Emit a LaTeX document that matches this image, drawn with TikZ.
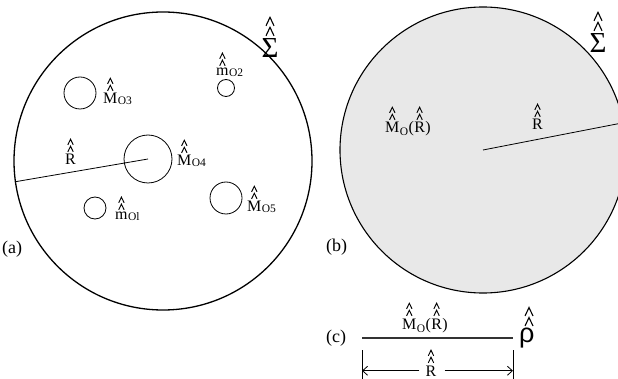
\documentclass[tikz,border=0pt]{standalone}
\usepackage{fontspec}
\setmainfont{Liberation Serif}
\newfontfamily\sansf{Liberation Sans}
\usetikzlibrary{arrows.meta}
\tikzset{
  dhat/.pic={\draw[line width=0.95pt] (-2.7,0) -- (0,-5.6) -- (2.7,0) (-2.7,-7) -- (0,-12.6) -- (2.7,-7);},
  bighat/.pic={\draw[line width=1.1pt] (-4,0) -- (0,-8.5) -- (4,0) (-4,-10) -- (0,-18.5) -- (4,-10);},
  lbl/.style={anchor=base west, inner sep=0pt, font=\fontsize{16}{16}\selectfont},
  panel/.style={anchor=base west, inner sep=0pt, font=\fontsize{18}{18}\selectfont},
  sub/.style={anchor=base west, inner sep=0pt, font=\fontsize{11.5}{11.5}\selectfont},
  orb/.style={circle, draw, line width=0.8pt, inner sep=0pt},
  big/.style={circle, draw, inner sep=0pt},
  sig/.style={anchor=base, inner sep=0pt, font=\fontsize{29}{29}\selectfont},
  dim/.style={line width=0.8pt, -{Straight Barb[length=5pt,width=9pt]}},
}
\begin{document}
\begin{tikzpicture}[x=1pt,y=-1pt]
\useasboundingbox (0,0) rectangle (618,379);
\clip (0,0) rectangle (618,379);
% (a)
\node[big, line width=1.3pt, minimum size=298pt] (ca) at (163,161) {};
\node[orb, minimum size=32pt] (o3) at (80,93) {};
\node[orb, minimum size=17pt] (o2) at (226,88) {};
\node[orb, minimum size=48pt] (o4) at (148,159) {};
\node[orb, minimum size=22pt] (o1) at (95,208) {};
\node[orb, minimum size=32pt] (o5) at (226,198) {};
\draw[line width=0.8pt] (ca.188.6) -- (o4.center);
\node[lbl] (l3) at (103,104) {M};
\node[sub, yshift=-1pt] (l3s) at (l3.base east) {O3};
\pic at ([yshift=2.5pt]l3.north) {dhat};
\node[lbl] (l2) at (216,76) {m};
\node[sub, yshift=-1pt] (l2s) at (l2.base east) {O2};
\pic at ([yshift=2.5pt]l2.north) {dhat};
\node[lbl] (lra) at (65,165) {R};
\pic at ([yshift=2.5pt]lra.north) {dhat};
\node[lbl] (l4) at (177,166) {M};
\node[sub, yshift=-1pt] (l4s) at (l4.base east) {O4};
\pic at ([yshift=2.5pt]l4.north) {dhat};
\node[lbl] (l1) at (115,220) {m};
\node[sub, yshift=-1pt] (l1s) at (l1.base east) {Ol};
\pic at ([yshift=2.5pt]l1.north) {dhat};
\node[lbl] (l5) at (247,212) {M};
\node[sub, yshift=-1pt] (l5s) at (l5.base east) {O5};
\pic at ([yshift=2.5pt]l5.north) {dhat};
\node[panel] (la) at (2,254) {(a)};
\node[sig] (sa) at (270,58) {Σ};
\pic at ([yshift=3pt]sa.north) {bighat};
% (b)
\node[big, line width=1.1pt, fill=gray!18, minimum size=286pt] (cb) at (483,150) {};
\draw[line width=0.8pt] (cb.center) -- (cb.11);
\node[lbl] (mb) at (385,133) {M};
\node[sub, yshift=-3pt] (mbs) at (mb.base east) {O};
\node[lbl] (mbp) at (mbs.base east |- mb.base) {(};
\node[lbl] (mbr) at (mbp.base east) {R};
\node[lbl] (mbq) at (mbr.base east) {)};
\pic at ([yshift=2.5pt]mb.north) {dhat};
\pic at ([yshift=2.5pt]mbr.north) {dhat};
\node[lbl] (lrb) at (532,130) {R};
\pic at ([yshift=2.5pt]lrb.north) {dhat};
\node[panel] (lb) at (326,252) {(b)};
\node[sig] (sb) at (598,53) {Σ};
\pic at ([yshift=3pt]sb.north) {bighat};
% (c)
\node[panel] (lc) at (326,342) {(c)};
\coordinate (c1) at (362,338);
\coordinate (c2) at (513,338);
\draw[line width=1.6pt, gray!40!black] (c1) -- (c2);
\node[lbl] (mc) at (402,329) {M};
\node[sub, yshift=-3pt] (mcs) at (mc.base east) {O};
\node[lbl] (mcp) at (mcs.base east |- mc.base) {(};
\node[lbl] (mcr) at (mcp.base east) {R};
\node[lbl] (mcq) at (mcr.base east) {)};
\pic at ([yshift=2.5pt]mc.north) {dhat};
\pic at ([yshift=2.5pt]mcr.north) {dhat};
\node[anchor=base west, inner sep=0pt, font=\sansf\fontsize{27}{27}\selectfont] (rho) at (519,342) {ρ};
\pic at (529,326) {bighat};
\coordinate (t1a) at (362,350);
\coordinate (t1b) at (362,379);
\coordinate (t2a) at (513,350);
\coordinate (t2b) at (513,379);
\draw[line width=0.8pt] (t1a) -- (t1b) (t2a) -- (t2b);
\node[anchor=base, inner sep=0pt, font=\fontsize{16}{16}\selectfont] (rd) at (431,376) {R};
\pic at ([yshift=2.5pt]rd.north) {dhat};
\draw[dim] ([xshift=-6pt]rd.west) -- (rd.west -| t1a);
\draw[dim] ([xshift=8pt]rd.east) -- (rd.east -| t2a);
\end{tikzpicture}
\end{document}
